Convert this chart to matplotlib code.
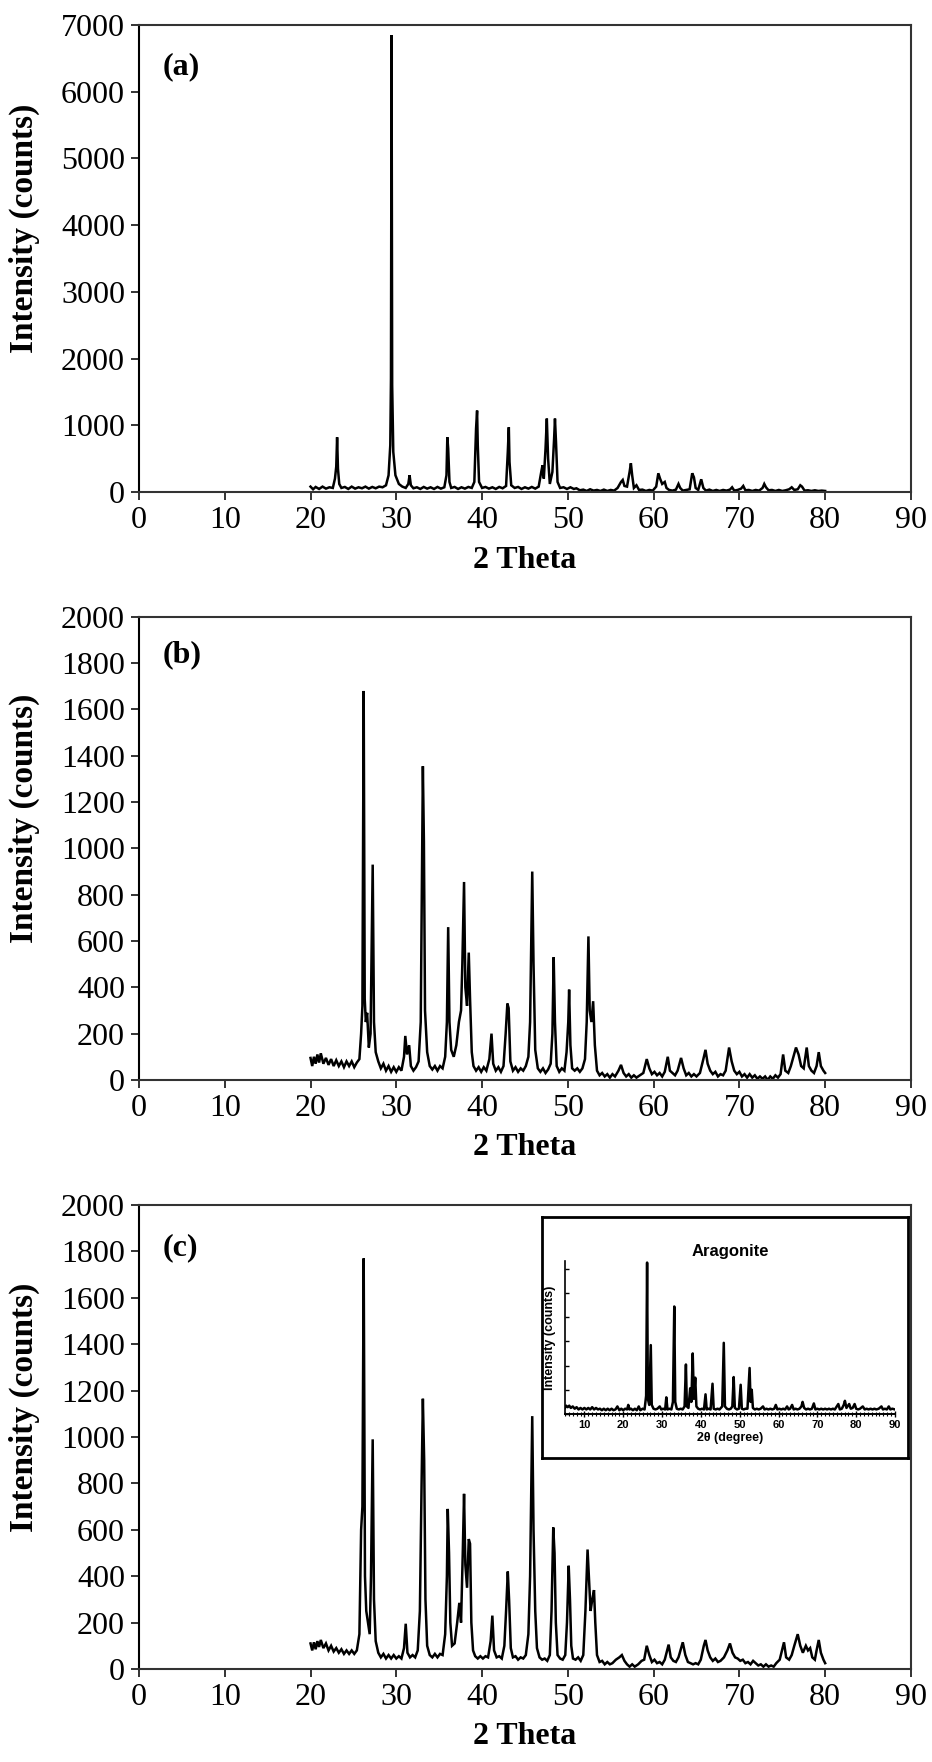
import matplotlib

matplotlib.use("Agg")
import matplotlib.pyplot as plt
from matplotlib.ticker import MultipleLocator

plt.rcParams["font.family"] = ["Liberation Serif", "DejaVu Serif"]

# ---- data (2 theta, counts) ----
theta_a = [20.0, 20.3, 20.6, 21.0, 21.4, 21.8, 22.2, 22.6, 22.85, 23.0, 23.1, 23.2, 23.35, 23.6,
           24.0, 24.4, 24.8, 25.2, 25.6, 26.0, 26.4, 26.8, 27.2, 27.6, 28.0, 28.4, 28.8, 29.1,
           29.3, 29.38, 29.45, 29.52, 29.65, 29.9, 30.3, 30.7, 31.1, 31.4, 31.55, 31.7, 32.0,
           32.4, 32.8, 33.2, 33.6, 34.0, 34.4, 34.8, 35.2, 35.6, 35.85, 35.95, 36.05, 36.2,
           36.4, 36.8, 37.2, 37.6, 38.0, 38.4, 38.8, 39.1, 39.3, 39.42, 39.5, 39.65, 40.0,
           40.4, 40.8, 41.2, 41.6, 42.0, 42.4, 42.8, 43.0, 43.12, 43.2, 43.4, 43.8, 44.2, 44.6,
           45.0, 45.4, 45.8, 46.2, 46.6, 46.9, 47.05, 47.2, 47.4, 47.55, 47.7, 47.9, 48.2,
           48.4, 48.5, 48.62, 48.8, 49.1, 49.5, 49.9, 50.3, 50.7, 51.0, 51.4, 51.8, 52.2,
           52.6, 53.0, 53.4, 53.8, 54.2, 54.6, 55.0, 55.4, 55.8, 56.2, 56.4, 56.6, 56.9,
           57.2, 57.35, 57.5, 57.7, 58.0, 58.3, 58.7, 59.1, 59.5, 59.9, 60.3, 60.55, 60.75,
           61.0, 61.3, 61.5, 61.8, 62.2, 62.6, 62.9, 63.1, 63.4, 63.8, 64.2, 64.5, 64.7,
           64.9, 65.2, 65.55, 65.8, 66.1, 66.5, 66.9, 67.3, 67.7, 68.1, 68.5, 68.9, 69.15,
           69.4, 69.8, 70.2, 70.45, 70.7, 71.1, 71.5, 71.9, 72.3, 72.7, 72.9, 73.1, 73.4,
           73.8, 74.2, 74.6, 75.0, 75.4, 75.8, 76.1, 76.4, 76.8, 77.1, 77.3, 77.6, 78.0,
           78.4, 78.8, 79.2, 79.6, 80.0]
counts_a = [80, 40, 75, 45, 80, 50, 70, 60, 200, 380, 820, 350, 120, 60,
            75, 45, 80, 50, 70, 55, 80, 50, 75, 55, 80, 70, 100, 250,
            700, 1700, 6850, 1600, 600, 250, 120, 80, 60, 120, 250, 100, 55,
            70, 45, 75, 50, 70, 45, 75, 50, 70, 250, 820, 650, 150,
            60, 75, 45, 70, 50, 75, 60, 150, 950, 1220, 700, 150, 60,
            75, 50, 70, 45, 75, 55, 90, 600, 970, 450, 100, 60, 75, 45,
            70, 50, 75, 50, 80, 300, 400, 200, 650, 1100, 500, 120, 300,
            800, 1100, 750, 150, 60, 70, 45, 70, 45, 55, 25, 35, 15,
            40, 20, 30, 15, 35, 15, 30, 20, 60, 150, 180, 90, 80,
            300, 430, 250, 60, 100, 30, 35, 15, 30, 20, 80, 280, 200,
            120, 150, 60, 30, 20, 35, 120, 60, 20, 30, 40, 280, 220,
            60, 30, 190, 60, 20, 35, 15, 30, 15, 30, 20, 35, 70,
            20, 30, 50, 90, 25, 30, 15, 30, 20, 60, 120, 70, 25,
            30, 15, 30, 15, 25, 40, 70, 30, 40, 100, 80, 20, 25,
            15, 25, 15, 20, 15]

theta_b = [20.0, 20.2, 20.4, 20.6, 20.8, 21.0, 21.2, 21.5, 21.8, 22.1, 22.4, 22.7, 23.0, 23.3,
           23.6, 23.9, 24.2, 24.5, 24.8, 25.1, 25.4, 25.7, 25.9, 26.05, 26.2, 26.32, 26.45,
           26.6, 26.8, 27.0, 27.25, 27.4, 27.6, 27.9, 28.2, 28.5, 28.8, 29.1, 29.4, 29.7,
           30.0, 30.3, 30.6, 30.9, 31.05, 31.25, 31.5, 31.7, 32.0, 32.3, 32.6, 32.85, 33.0,
           33.1, 33.22, 33.35, 33.6, 33.9, 34.2, 34.5, 34.8, 35.1, 35.4, 35.7, 35.9, 36.05,
           36.2, 36.4, 36.7, 37.0, 37.3, 37.55, 37.7, 37.9, 38.05, 38.25, 38.45, 38.6, 38.8,
           39.0, 39.3, 39.6, 39.9, 40.2, 40.5, 40.85, 41.1, 41.3, 41.6, 41.9, 42.2, 42.5,
           42.75, 42.95, 43.1, 43.3, 43.6, 43.9, 44.2, 44.5, 44.8, 45.1, 45.4, 45.6, 45.85,
           46.0, 46.2, 46.5, 46.8, 47.1, 47.4, 47.7, 48.0, 48.2, 48.35, 48.5, 48.7, 49.0,
           49.3, 49.6, 49.85, 50.05, 50.15, 50.3, 50.5, 50.8, 51.1, 51.4, 51.7, 52.0, 52.2,
           52.4, 52.55, 52.75, 52.95, 53.15, 53.4, 53.7, 54.0, 54.3, 54.6, 54.9, 55.2, 55.5,
           55.9, 56.2, 56.5, 56.8, 57.1, 57.4, 57.7, 58.0, 58.4, 58.8, 59.2, 59.5, 59.8,
           60.1, 60.4, 60.7, 61.0, 61.3, 61.65, 61.9, 62.2, 62.5, 62.8, 63.2, 63.5, 63.8,
           64.1, 64.4, 64.7, 65.0, 65.4, 65.8, 66.05, 66.3, 66.6, 66.9, 67.2, 67.5, 67.8,
           68.1, 68.4, 68.8, 69.1, 69.4, 69.7, 70.0, 70.3, 70.6, 70.9, 71.2, 71.5, 71.8,
           72.1, 72.4, 72.7, 73.0, 73.3, 73.6, 73.9, 74.2, 74.5, 74.8, 75.1, 75.35, 75.7,
           76.0, 76.3, 76.6, 76.9, 77.2, 77.5, 77.85, 78.1, 78.4, 78.7, 79.0, 79.25, 79.5,
           79.8, 80.0]
counts_b = [95, 60, 100, 70, 110, 75, 115, 70, 95, 65, 90, 60, 85, 60,
            80, 55, 80, 60, 80, 55, 75, 90, 200, 320, 1680, 350, 250,
            290, 140, 200, 930, 250, 120, 80, 50, 70, 40, 60, 35, 55,
            35, 55, 40, 100, 190, 110, 150, 60, 40, 55, 80, 250, 900,
            1355, 1030, 300, 120, 60, 45, 60, 40, 60, 50, 100, 250, 660,
            250, 130, 100, 150, 250, 300, 500, 855, 400, 320, 550, 350, 120,
            60, 40, 55, 35, 55, 40, 90, 200, 70, 40, 55, 35, 60,
            200, 330, 310, 80, 40, 55, 35, 50, 40, 60, 100, 250, 900,
            500, 130, 50, 35, 50, 30, 45, 70, 200, 530, 250, 60, 35,
            50, 40, 120, 250, 390, 150, 50, 40, 50, 35, 50, 90, 250,
            620, 300, 250, 340, 150, 40, 20, 30, 15, 25, 10, 25, 15,
            40, 65, 30, 15, 25, 10, 20, 10, 20, 30, 90, 50, 25,
            35, 20, 30, 15, 35, 100, 40, 30, 20, 40, 95, 50, 20,
            30, 15, 25, 15, 30, 90, 130, 70, 40, 25, 35, 15, 25,
            20, 40, 140, 80, 40, 25, 35, 15, 25, 10, 25, 10, 20,
            5, 15, 5, 15, 0, 15, 5, 20, 10, 25, 110, 40, 30,
            60, 100, 140, 110, 60, 50, 140, 60, 40, 30, 60, 120, 60,
            40, 30]

theta_c = [20.0, 20.2, 20.4, 20.6, 20.8, 21.0, 21.2, 21.5, 21.8, 22.1, 22.4, 22.7, 23.0, 23.3,
           23.6, 23.9, 24.2, 24.5, 24.8, 25.1, 25.4, 25.7, 25.9, 26.05, 26.2, 26.35, 26.5,
           26.7, 26.9, 27.05, 27.25, 27.4, 27.6, 27.9, 28.2, 28.5, 28.8, 29.1, 29.4, 29.7,
           30.0, 30.3, 30.6, 30.9, 31.1, 31.3, 31.6, 31.9, 32.2, 32.5, 32.75, 32.95, 33.1,
           33.25, 33.4, 33.6, 33.9, 34.2, 34.5, 34.8, 35.1, 35.4, 35.7, 35.9, 36.0, 36.15,
           36.3, 36.5, 36.8, 37.1, 37.35, 37.55, 37.75, 37.9, 38.05, 38.25, 38.45, 38.6,
           38.75, 38.95, 39.2, 39.5, 39.8, 40.1, 40.4, 40.7, 41.0, 41.2, 41.4, 41.7, 42.0,
           42.3, 42.6, 42.8, 43.0, 43.15, 43.35, 43.6, 43.9, 44.2, 44.5, 44.8, 45.1, 45.4,
           45.6, 45.85, 46.0, 46.2, 46.4, 46.7, 47.0, 47.3, 47.6, 47.9, 48.1, 48.3, 48.45,
           48.6, 48.8, 49.1, 49.4, 49.7, 49.9, 50.1, 50.25, 50.4, 50.6, 50.9, 51.2, 51.5,
           51.8, 52.05, 52.3, 52.45, 52.65, 52.85, 53.05, 53.2, 53.4, 53.7, 54.0, 54.3, 54.6,
           54.9, 55.2, 55.6, 56.0, 56.3, 56.6, 56.9, 57.2, 57.5, 57.8, 58.2, 58.6, 58.9,
           59.2, 59.5, 59.8, 60.1, 60.4, 60.7, 61.0, 61.3, 61.75, 62.0, 62.3, 62.6, 62.9,
           63.4, 63.7, 64.0, 64.3, 64.6, 64.9, 65.2, 65.5, 65.85, 66.05, 66.3, 66.6, 66.9,
           67.2, 67.5, 67.8, 68.2, 68.6, 68.9, 69.2, 69.5, 69.8, 70.1, 70.4, 70.7, 71.0,
           71.3, 71.6, 71.9, 72.2, 72.5, 72.8, 73.1, 73.4, 73.7, 74.0, 74.3, 74.7, 75.2,
           75.45, 75.8, 76.1, 76.4, 76.8, 77.1, 77.4, 77.75, 78.0, 78.25, 78.5, 78.8, 79.0,
           79.25, 79.5, 79.8, 80.0]
counts_c = [110, 80, 115, 85, 120, 95, 125, 90, 110, 80, 100, 75, 90, 70,
            85, 65, 80, 65, 80, 65, 80, 150, 600, 700, 1770, 400, 250,
            200, 150, 400, 990, 300, 120, 70, 50, 65, 45, 60, 45, 60,
            45, 55, 45, 90, 195, 70, 50, 60, 50, 80, 250, 800, 1165,
            900, 300, 100, 60, 50, 65, 50, 65, 60, 150, 400, 690, 500,
            200, 100, 110, 200, 285, 200, 500, 755, 450, 350, 560, 540,
            200, 80, 55, 45, 55, 45, 55, 50, 120, 230, 80, 50, 55,
            45, 100, 250, 420, 300, 90, 50, 55, 40, 50, 45, 60, 150,
            400, 1090, 600, 250, 90, 50, 40, 45, 35, 60, 250, 610, 500,
            200, 60, 45, 40, 60, 200, 445, 300, 100, 45, 40, 50, 35,
            60, 250, 515, 400, 250, 300, 340, 200, 60, 30, 35, 20, 30,
            20, 25, 40, 50, 60, 35, 20, 10, 20, 10, 20, 35, 40,
            100, 60, 30, 40, 25, 30, 20, 40, 105, 50, 35, 30, 50,
            115, 60, 30, 25, 20, 25, 20, 40, 100, 125, 80, 50, 35,
            45, 30, 35, 50, 80, 110, 70, 50, 45, 35, 40, 25, 30,
            20, 35, 25, 15, 20, 10, 20, 10, 15, 10, 25, 40, 115,
            50, 40, 60, 100, 150, 100, 70, 100, 80, 90, 50, 40, 80,
            125, 70, 40, 25]

# inset: aragonite reference pattern (relative intensity)
theta_arag = [5.0, 5.3, 5.7, 6.1, 6.5, 7.0, 7.5, 8.0, 8.5, 9.0, 9.5, 10.0, 10.5, 11.0, 11.5,
              12.0, 12.5, 13.0, 13.5, 14.0, 14.5, 15.0, 15.5, 16.0, 16.5, 17.0, 17.5, 18.0,
              18.5, 19.0, 19.5, 20.0, 20.5, 21.0, 21.3, 21.6, 22.0, 22.5, 23.0, 23.5, 24.0,
              24.4, 25.0, 25.5, 25.9, 26.15, 26.35, 26.7, 27.1, 27.35, 27.8, 28.3, 28.8, 29.4,
              29.8, 30.3, 30.8, 31.1, 31.4, 31.9, 32.4, 32.8, 33.15, 33.4, 33.8, 34.3, 34.8,
              35.3, 35.8, 36.15, 36.4, 36.8, 37.25, 37.55, 37.9, 38.2, 38.55, 38.85, 39.3,
              39.8, 40.3, 40.8, 41.2, 41.5, 42.0, 42.5, 43.0, 43.3, 43.8, 44.3, 44.8, 45.5,
              45.9, 46.2, 46.7, 47.2, 47.7, 48.1, 48.45, 48.75, 49.3, 49.8, 50.25, 50.55, 51.0,
              51.5, 52.0, 52.55, 52.8, 53.1, 53.4, 53.9, 54.4, 54.9, 55.4, 56.0, 56.4, 56.9,
              57.4, 57.9, 58.4, 58.9, 59.3, 59.7, 60.2, 60.7, 61.2, 61.7, 62.2, 62.6, 63.0,
              63.5, 63.9, 64.4, 64.9, 65.4, 65.9, 66.2, 66.6, 67.1, 67.6, 68.1, 68.6, 69.1,
              69.5, 70.0, 70.5, 71.0, 71.5, 72.0, 72.5, 73.0, 73.5, 74.0, 74.5, 75.4, 75.8,
              76.3, 76.8, 77.1, 77.5, 78.2, 78.6, 79.1, 79.6, 80.0, 80.5, 81.0, 81.7, 82.2,
              82.7, 83.2, 83.7, 84.2, 84.7, 85.2, 85.8, 86.5, 86.9, 87.4, 87.9, 88.4, 88.8,
              89.3, 90.0]
counts_arag = [4, 5.5, 4.5, 5.5, 4, 5, 3.5, 4.5, 3, 4, 3, 4, 3, 4, 3,
               4.5, 3, 4, 3, 3.5, 2.5, 3.5, 2.5, 3.5, 2.5, 3.5, 2.5, 3,
               5, 2.5, 3.5, 2.5, 3.5, 3, 6, 3, 3.5, 2.5, 3.5, 2.5, 5,
               2.5, 3.5, 3, 12, 100, 10, 6, 45.5, 6, 3.5, 3, 3.5, 5,
               3, 3.5, 3, 11, 3, 3.5, 3, 8, 71, 8, 3.5, 3, 3.5,
               3, 5, 32.7, 5, 4, 17, 8, 40, 10, 24, 5, 3.5,
               3, 3.5, 3, 13, 3, 3.5, 3, 20, 3.5, 3, 3.5, 3, 5,
               47, 5, 3.5, 3, 3.5, 5, 24.4, 4, 3, 3.5, 19.3, 3.5, 3,
               3.5, 3.5, 30.4, 8, 16, 4, 3, 3.5, 3, 3.5, 5, 3, 3.5,
               3, 3.5, 3, 3.5, 6, 3, 3.5, 3, 3.5, 3, 5, 3, 3.5,
               6, 3, 3.5, 3, 3.5, 5, 8, 4, 3, 3.5, 3, 3.5, 7,
               3, 3.5, 3, 3.5, 3, 3.5, 3, 3.5, 3, 3.5, 3, 6.6, 3,
               3.5, 6, 8.7, 4, 6.6, 3.5, 4, 6.6, 3.5, 3, 3.5, 5, 3,
               3.5, 3, 3.5, 3, 3.5, 3, 3.5, 5, 3, 3.5, 3, 5, 3,
               3.5, 3]

panel_labels = ["(a)", "(b)", "(c)"]
y_max = [7000, 2000, 2000]
y_step = [1000, 200, 200]

spine_col = "#333333"
sans = ["Liberation Sans", "DejaVu Sans"]
fig = plt.figure(figsize=(9.32, 17.62), dpi=100)

# axes rectangles [left, bottom, width, height] in figure fraction
rects = [
    [0.1491, 0.7208, 0.8283, 0.2650],
    [0.1491, 0.3871, 0.8283, 0.2628],
    [0.1491, 0.0528, 0.8283, 0.2633],
]
series = [(theta_a, counts_a), (theta_b, counts_b), (theta_c, counts_c)]
label_y = [0.91, 0.918, 0.907]

for i, rect in enumerate(rects):
    ax = fig.add_axes(rect)
    x, y = series[i]
    ax.plot(x, y, color="black", lw=1.8, solid_joinstyle="miter")
    ax.set_xlim(0, 90)
    ax.set_ylim(0, y_max[i])
    ax.xaxis.set_major_locator(MultipleLocator(10))
    ax.yaxis.set_major_locator(MultipleLocator(y_step[i]))
    for sp in ax.spines.values():
        sp.set_color(spine_col)
        sp.set_linewidth(1.5)
    ax.spines["left"].set_color("black")
    ax.tick_params(direction="out", length=6, width=1.4, color=spine_col,
                   labelsize=23, top=False, right=False)
    ax.tick_params(axis="x", pad=4)
    ax.tick_params(axis="y", pad=4)
    ax.set_xlabel("2 Theta", fontsize=23, fontweight="bold")
    ax.set_ylabel("Intensity (counts)", fontsize=24, fontweight="bold")
    ax.xaxis.set_label_coords(0.5, -0.115)
    ax.yaxis.set_label_coords(-0.128, 0.565)
    ax.text(0.031, label_y[i], panel_labels[i], transform=ax.transAxes,
            fontsize=23, fontweight="bold", va="center", ha="left")

# inset frame and inset plot in panel (c)
frame = fig.add_axes([0.5815, 0.1725, 0.3927, 0.1368])
frame.set_xticks([])
frame.set_yticks([])
for sp in frame.spines.values():
    sp.set_linewidth(2)
    sp.set_color("black")
frame.set_zorder(5)

ins = fig.add_axes([0.6062, 0.1975, 0.3541, 0.0868])
ins.set_zorder(6)
ins.patch.set_alpha(0)
ins.plot(theta_arag, counts_arag, color="black", lw=1.8)
ins.set_xlim(5, 90)
ins.set_ylim(0, 101)
ins.spines["top"].set_visible(False)
ins.spines["right"].set_visible(False)
ins.spines["left"].set_linewidth(1.2)
ins.spines["bottom"].set_linewidth(1.4)
ins.xaxis.set_major_locator(MultipleLocator(10))
ins.xaxis.set_minor_locator(MultipleLocator(1))
ins.yaxis.set_major_locator(MultipleLocator(16))
ins.set_yticklabels([])
ins.tick_params(axis="x", which="major", direction="inout", length=5, width=1,
                pad=2, labelsize=8)
ins.tick_params(axis="x", which="minor", direction="inout", length=3, width=0.8)
ins.tick_params(axis="y", direction="in", length=3, width=1)
for lab in ins.get_xticklabels():
    lab.set_family(sans)
    lab.set_fontweight("bold")
ins.set_title("Aragonite", fontsize=12, fontweight="bold", family=sans, pad=4)
ins.set_xlabel("2θ (degree)", fontsize=9, fontweight="bold", family=sans, labelpad=1)
ins.set_ylabel("Intensity (counts)", fontsize=9, fontweight="bold", family=sans,
               labelpad=3)

fig.savefig("out.png", dpi=100)
